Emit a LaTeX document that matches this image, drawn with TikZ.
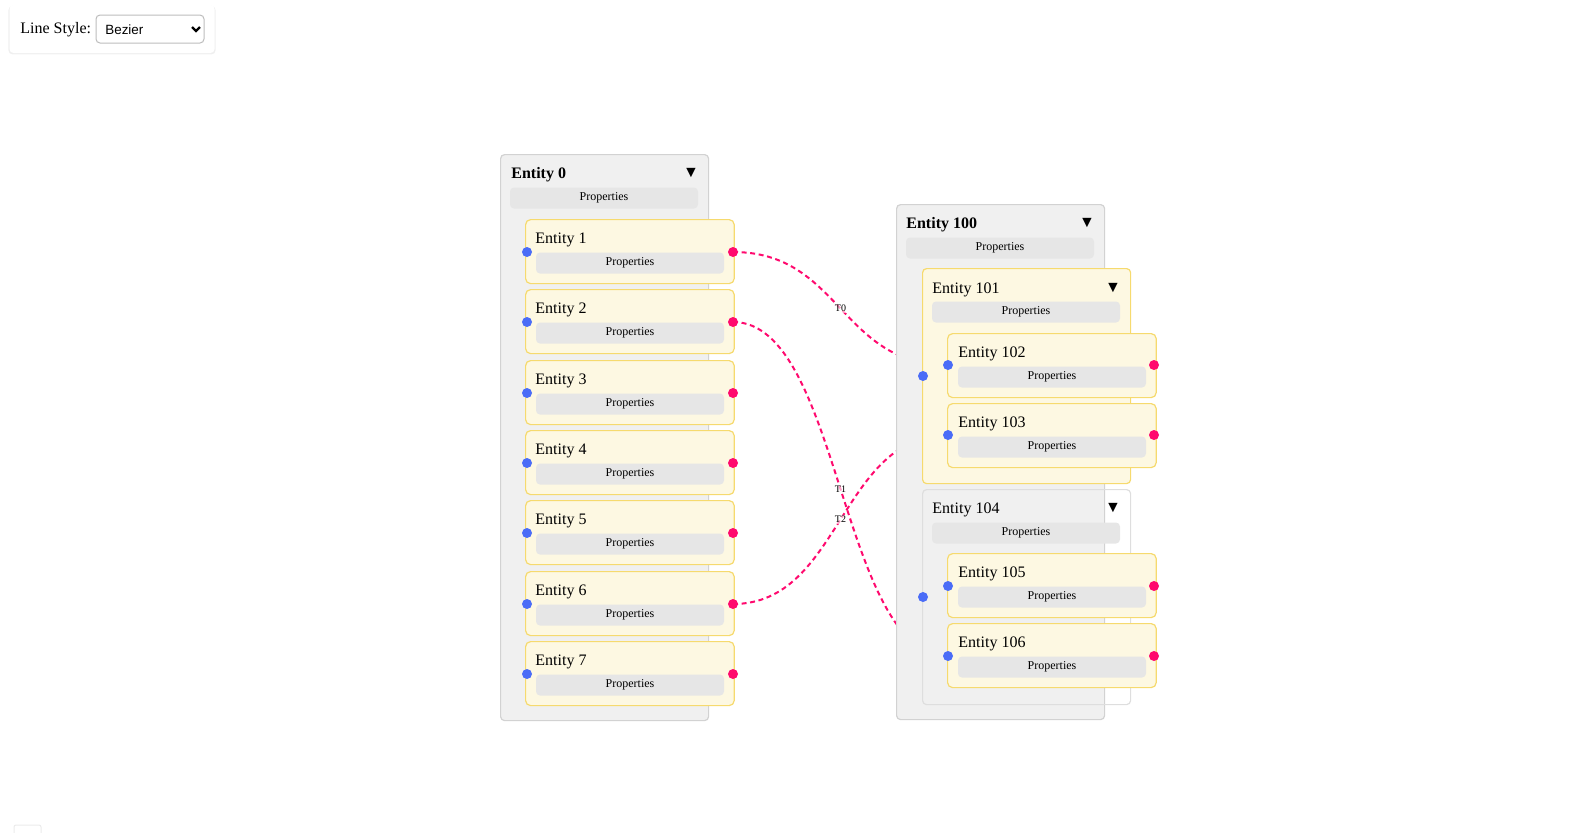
\documentclass[tikz,border=0pt]{standalone}
\usepackage{fontspec}
\setmainfont{Liberation Serif}
\newfontfamily\uifont{Liberation Sans}
\usetikzlibrary{calc,positioning,shapes,backgrounds,shadows}
\definecolor{groupfill}{HTML}{F0F0F0}
\definecolor{groupline}{HTML}{D2D2D2}
\definecolor{leaffill}{HTML}{FDF8E2}
\definecolor{leafline}{HTML}{F6DA6E}
\definecolor{propsfill}{HTML}{E6E6E6}
\definecolor{portin}{HTML}{4A6CF7}
\definecolor{portout}{HTML}{FF0A6E}
\definecolor{selectline}{HTML}{BDBDBD}
\tikzset{
    groupbox/.style={
        rectangle,
        rounded corners=2pt,
        draw=groupline,
        fill=groupfill,
        line width=0.6pt,
        anchor=north west,
        minimum width=104pt,
        inner sep=0pt
    },
    nestbox/.style={
        rectangle,
        rounded corners=2pt,
        draw=leafline,
        fill=leaffill,
        line width=0.6pt,
        anchor=north west,
        minimum width=104pt,
        minimum height=107.5pt,
        inner sep=0pt
    },
    leafbox/.style={
        rectangle,
        rounded corners=2.5pt,
        draw=leafline,
        fill=leaffill,
        line width=0.6pt,
        anchor=north west,
        minimum width=104.3pt,
        minimum height=32pt,
        inner sep=0pt
    },
    titletext/.style={anchor=base west, inner sep=0pt,
        font={\fontsize{8pt}{9.6pt}\selectfont}},
    boldtitle/.style={anchor=base west, inner sep=0pt,
        font={\fontsize{8pt}{9.6pt}\selectfont\bfseries}},
    toggle/.style={inner sep=0pt, font={\fontsize{8pt}{9.6pt}\selectfont}},
    propsbar/.style={
        rectangle,
        rounded corners=2pt,
        fill=propsfill,
        minimum width=94pt,
        minimum height=10.5pt,
        inner sep=0pt,
        font={\fontsize{6pt}{7pt}\selectfont}
    },
    inport/.style={circle, fill=portin, minimum size=5pt, inner sep=0pt},
    outport/.style={circle, fill=portout, minimum size=5pt, inner sep=0pt},
    link/.style={draw=portout, line width=1pt, dash pattern=on 2.5pt off 1.8pt},
    linklabel/.style={fill=white, fill opacity=0.6, text opacity=1,
        inner sep=0.5pt, font={\fontsize{5pt}{6pt}\selectfont}},
}

\begin{document}
\begin{tikzpicture}[x=0.5pt,y=-0.5pt]
\useasboundingbox (0,0) rectangle (1591,832);

% line style control
\node (panel) [rectangle, rounded corners=2pt, fill=white, minimum width=102.5pt, minimum height=24pt,
    drop shadow={fill=black!12, shadow xshift=0pt, shadow yshift=-0.6pt, shadow scale=1.01}] at (112,29) {};
\node (stylelabel) [titletext] at (20,33) {Line Style:};
\node (select) [rectangle, rounded corners=2pt, draw=selectline, line width=0.5pt, fill=white,
    minimum width=54pt, minimum height=14pt] at (150,29) {};
\node (selecttext) [anchor=base west, inner sep=0pt, font={\uifont\fontsize{6.7pt}{8pt}\selectfont}] at (105,34) {Bezier};
\draw[line width=1.1pt] (192,27) -- (196,31) -- (200,27);

% Entity 0
\node (e0) [groupbox, minimum height=283pt] at (500,154) {};
\node (e0title) [boldtitle] at (511,178) {Entity 0};
\node (e0toggle) [toggle] at (691,173) {▼};
\node (e0props) [propsbar] at (604,198) {Properties};

\node (e1) [leafbox] at (525,219) {};
\node (e1title) [titletext] at (535,243) {Entity 1};
\node (e1props) [propsbar] at (630,263) {Properties};
\node (e1in) [inport] at (527,252) {};
\node (e1out) [outport] at (733,252) {};

\node (e2) [leafbox] at (525,289) {};
\node (e2title) [titletext] at (535,313) {Entity 2};
\node (e2props) [propsbar] at (630,333) {Properties};
\node (e2in) [inport] at (527,322) {};
\node (e2out) [outport] at (733,322) {};

\node (e3) [leafbox] at (525,360) {};
\node (e3title) [titletext] at (535,384) {Entity 3};
\node (e3props) [propsbar] at (630,404) {Properties};
\node (e3in) [inport] at (527,393) {};
\node (e3out) [outport] at (733,393) {};

\node (e4) [leafbox] at (525,430) {};
\node (e4title) [titletext] at (535,454) {Entity 4};
\node (e4props) [propsbar] at (630,474) {Properties};
\node (e4in) [inport] at (527,463) {};
\node (e4out) [outport] at (733,463) {};

\node (e5) [leafbox] at (525,500) {};
\node (e5title) [titletext] at (535,524) {Entity 5};
\node (e5props) [propsbar] at (630,544) {Properties};
\node (e5in) [inport] at (527,533) {};
\node (e5out) [outport] at (733,533) {};

\node (e6) [leafbox] at (525,571) {};
\node (e6title) [titletext] at (535,595) {Entity 6};
\node (e6props) [propsbar] at (630,615) {Properties};
\node (e6in) [inport] at (527,604) {};
\node (e6out) [outport] at (733,604) {};

\node (e7) [leafbox] at (525,641) {};
\node (e7title) [titletext] at (535,665) {Entity 7};
\node (e7props) [propsbar] at (630,685) {Properties};
\node (e7in) [inport] at (527,674) {};
\node (e7out) [outport] at (733,674) {};

% Entity 100
\node (e100) [groupbox, minimum height=257.5pt] at (896,204) {};
\node (e100title) [boldtitle] at (906,228) {Entity 100};
\node (e100toggle) [toggle] at (1087,223) {▼};
\node (e100props) [propsbar] at (1000,248) {Properties};

\node (e101) [nestbox] at (922,268) {};
\node (e101title) [titletext] at (932,293) {Entity 101};
\node (e101toggle) [toggle] at (1113,288) {▼};
\node (e101props) [propsbar] at (1026,312) {Properties};
\node (e101in) [inport] at (923,376) {};

\node (e102) [leafbox] at (947,333) {};
\node (e102title) [titletext] at (958,357) {Entity 102};
\node (e102props) [propsbar] at (1052,377) {Properties};
\node (e102in) [inport] at (948,365) {};
\node (e102out) [outport] at (1154,365) {};

\node (e103) [leafbox] at (947,403) {};
\node (e103title) [titletext] at (958,427) {Entity 103};
\node (e103props) [propsbar] at (1052,447) {Properties};
\node (e103in) [inport] at (948,435) {};
\node (e103out) [outport] at (1154,435) {};

\node (e104) [nestbox, draw=black!13, fill=none] at (922,489) {};
\node (e104title) [titletext] at (932,513) {Entity 104};
\node (e104toggle) [toggle] at (1113,508) {▼};
\node (e104props) [propsbar] at (1026,533) {Properties};
\node (e104in) [inport] at (923,597) {};

\node (e105) [leafbox] at (947,553) {};
\node (e105title) [titletext] at (958,577) {Entity 105};
\node (e105props) [propsbar] at (1052,597) {Properties};
\node (e105in) [inport] at (948,586) {};
\node (e105out) [outport] at (1154,586) {};

\node (e106) [leafbox] at (947,623) {};
\node (e106title) [titletext] at (958,647) {Entity 106};
\node (e106props) [propsbar] at (1052,667) {Properties};
\node (e106in) [inport] at (948,656) {};
\node (e106out) [outport] at (1154,656) {};

% links go under the boxes
\begin{pgfonlayer}{background}
\draw[link] (e1out.center) .. controls +(108,0) and +(-108,0) .. (e102in.center) node[linklabel,pos=0.5] {T0};
\draw[link] (e2out.center) .. controls +(108,0) and +(-108,0) .. (e106in.center) node[linklabel,pos=0.5] {T1};
\draw[link] (e6out.center) .. controls +(108,0) and +(-108,0) .. (e103in.center) node[linklabel,pos=0.5] {T2};
\end{pgfonlayer}

\draw[draw=black!8, line width=0.5pt, rounded corners=1pt] (14,825) rectangle (41,840);
\end{tikzpicture}
\end{document}
